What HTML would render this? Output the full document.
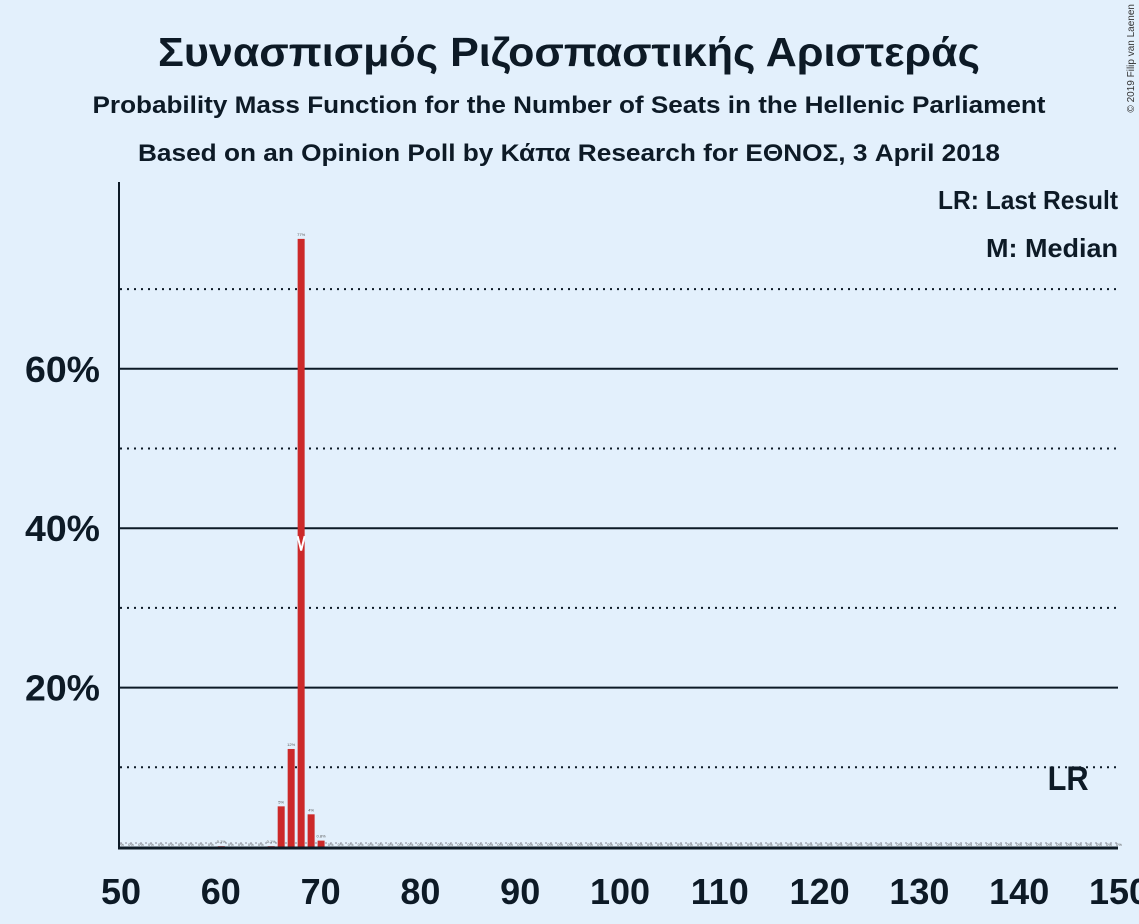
<!DOCTYPE html>
<html><head><meta charset="utf-8"><style>
body{margin:0;background:#e3f0fc;font-family:"Liberation Sans",sans-serif}
svg{display:block}
</style></head><body>
<svg width="1139" height="924" id="c">
<rect width="1139" height="924" fill="#e3f0fc"/>
<text x="569" y="66" text-anchor="middle" font-size="41" font-weight="bold" fill="#0d1a26" textLength="822" lengthAdjust="spacingAndGlyphs">Συνασπισμός Ριζοσπαστικής Αριστεράς</text>
<text x="569" y="113" text-anchor="middle" font-size="24" font-weight="bold" fill="#0d1a26" textLength="953" lengthAdjust="spacingAndGlyphs">Probability Mass Function for the Number of Seats in the Hellenic Parliament</text>
<text x="569" y="161" text-anchor="middle" font-size="24" font-weight="bold" fill="#0d1a26" textLength="862" lengthAdjust="spacingAndGlyphs">Based on an Opinion Poll by Κάπα Research for ΕΘΝΟΣ, 3 April 2018</text>
<text x="1134" y="4" font-size="10" fill="#333" transform="rotate(-90 1134 4)" text-anchor="end">© 2019 Filip van Laenen</text>
<text x="1118" y="209" text-anchor="end" font-size="26" font-weight="bold" fill="#0d1a26" textLength="180" lengthAdjust="spacingAndGlyphs">LR: Last Result</text>
<text x="1118" y="257" text-anchor="end" font-size="26" font-weight="bold" fill="#0d1a26" textLength="132" lengthAdjust="spacingAndGlyphs">M: Median</text>
<g id="grid"></g><g id="bars"></g><g id="axes"></g>
</svg>
<script>
const seats=[];for(let s=50;s<=150;s++)seats.push(s);
const barSeats=[60,65,66,67,68,69,70];
const barValues=[0.1,0.1,5.1,12.3,76.3,4.1,0.8];
const barLabels=["0.1%","0.1%","5%","12%","77%","4%","0.8%"];
const yTicks=[20,40,60];
const yMinor=[10,30,50,70];
const xTicks=[50,60,70,80,90,100,110,120,130,140,150];
const median=68, lastResult=145;
const X=s=>121+(s-50)*9.98, Y=v=>847-v*7.97;
const ns="http://www.w3.org/2000/svg";
function mk(t,a,p){const e=document.createElementNS(ns,t);for(const k in a)e.setAttribute(k,a[k]);p.appendChild(e);return e;}
const g=document.getElementById('grid'),b=document.getElementById('bars'),ax=document.getElementById('axes');
yMinor.forEach(v=>{const l=mk('line',{x1:120,x2:1118,y1:Y(v),y2:Y(v),stroke:'#0d1a26','stroke-width':2,'stroke-dasharray':'2,5'},g);

});
yTicks.forEach(v=>{const l=mk('line',{x1:120,x2:1118,y1:Y(v),y2:Y(v),stroke:'#0d1a26','stroke-width':2},g);


const t=mk('text',{x:100,y:Y(v)+13,'text-anchor':'end','font-size':36,'font-weight':'bold',fill:'#0d1a26',textLength:75,lengthAdjust:'spacingAndGlyphs'},ax);t.textContent=v+'%';

});
const lr=mk('line',{x1:120,x2:1118,y1:Y(0.5),y2:Y(0.5),stroke:'#889','stroke-width':1,'stroke-dasharray':'2,3'},g);


seats.forEach(s=>{const i=barSeats.indexOf(s);
if(i<0){const t=mk('text',{x:X(s),y:846,'text-anchor':'middle','font-size':4,fill:'#555'},b);t.textContent='0%';

return;}
const v=barValues[i];
const r=mk('rect',{x:X(s)-3,y:Y(v),width:7,height:847-Y(v),fill:'#cc2929'},b);


const t=mk('text',{x:X(s)+0.5,y:Y(v)-3,'text-anchor':'middle','font-size':4,fill:'#555'},b);t.textContent=barLabels[i];

});
const m=mk('polyline',{points:`${X(median)-3},${Y(39)} ${X(median)+0.5},${Y(37.2)} ${X(median)+4},${Y(39)}`,fill:'none',stroke:'#fff','stroke-width':2},b);


const lt=mk('text',{x:X(lastResult)-1,y:790,'text-anchor':'middle','font-size':34,'font-weight':'bold',fill:'#0d1a26',textLength:41,lengthAdjust:'spacingAndGlyphs'},ax);lt.textContent='LR';


const ya=mk('line',{x1:119,x2:119,y1:182,y2:848,stroke:'#0d1a26','stroke-width':2},ax);


const xa=mk('line',{x1:118,x2:1118,y1:848,y2:848,stroke:'#0d1a26','stroke-width':3},ax);


xTicks.forEach(s=>{const t=mk('text',{x:X(s),y:904,'text-anchor':'middle','font-size':36,'font-weight':'bold',fill:'#0d1a26'},ax);t.textContent=s;

});
</script>
</body></html>
